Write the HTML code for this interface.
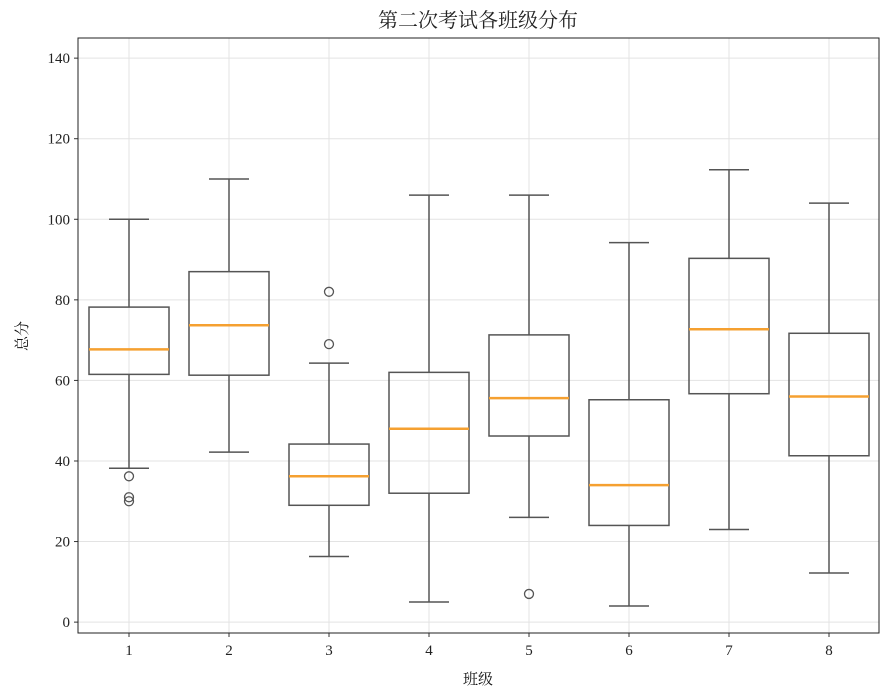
<!DOCTYPE html>
<html><head><meta charset="utf-8">
<style>
body{margin:0;background:#fff;}
svg text{font-family:"Liberation Serif","Noto Serif CJK SC",serif;fill:#222;}
</style></head>
<body>
<svg id="chart" width="888" height="690" xmlns="http://www.w3.org/2000/svg">
<text x="478" y="27" text-anchor="middle" font-size="20">第二次考试各班级分布</text>
<text x="478" y="684" text-anchor="middle" font-size="15" style="fill:#111">班级</text>
<text transform="translate(27,336) rotate(-90)" text-anchor="middle" font-size="15" style="fill:#111">总分</text>
<g id="grid"></g><g id="boxes"></g><g id="axes"></g>
</svg>
<script>
const categories=["1","2","3","4","5","6","7","8"];
const whiskerLow=[38.2,42.2,16.3,5,26,4,23,12.2];
const q1=[61.5,61.3,29,32,46.2,24,56.7,41.3];
const median=[67.7,73.7,36.2,48,55.6,34,72.7,56];
const q3=[78.2,87,44.2,62,71.3,55.2,90.3,71.7];
const whiskerHigh=[100,110,64.3,106,106,94.2,112.3,104];
const outliers=[[36.2,31,30],[],[69,82],[],[7],[],[],[]];
const yTicks=[0,20,40,60,80,100,120,140];
const L=78,R=879,T=38,B=633,yMin=-2.7,yMax=145;
const NS="http://www.w3.org/2000/svg";
const y=v=>B-(v-yMin)/(yMax-yMin)*(B-T);
const x=i=>129+i*(829-129)/(categories.length-1);
const BW=80;
function mk(tag,attrs,parent){const e=document.createElementNS(NS,tag);for(const k in attrs)e.setAttribute(k,attrs[k]);parent.appendChild(e);return e;}
const grid=document.getElementById('grid'),boxes=document.getElementById('boxes'),axes=document.getElementById('axes');
yTicks.forEach(t=>{
 const g=mk('line',{x1:L,x2:R,y1:y(t),y2:y(t),stroke:'#e3e3e3','stroke-width':1},grid);
 
 const tk=mk('line',{x1:L-4,x2:L,y1:y(t),y2:y(t),stroke:'#333'},axes);
 
 const tx=mk('text',{x:L-8,y:y(t)+5,'text-anchor':'end','font-size':15},axes);
 tx.textContent=t;
});
categories.forEach((c,i)=>{
 const cx=x(i);
 const g=mk('line',{x1:cx,x2:cx,y1:T,y2:B,stroke:'#e3e3e3'},grid);
 
 const grp=mk('g',{},boxes);
 
 const st={stroke:'#555','stroke-width':1.5,fill:'none'};
 mk('line',Object.assign({x1:cx,x2:cx,y1:y(whiskerLow[i]),y2:y(q1[i])},st),grp);
 mk('line',Object.assign({x1:cx,x2:cx,y1:y(q3[i]),y2:y(whiskerHigh[i])},st),grp);
 mk('line',Object.assign({x1:cx-20,x2:cx+20,y1:y(whiskerLow[i]),y2:y(whiskerLow[i])},st),grp);
 mk('line',Object.assign({x1:cx-20,x2:cx+20,y1:y(whiskerHigh[i]),y2:y(whiskerHigh[i])},st),grp);
 mk('rect',Object.assign({x:cx-BW/2,y:y(q3[i]),width:BW,height:y(q1[i])-y(q3[i])},st),grp);
 mk('line',{x1:cx-BW/2,x2:cx+BW/2,y1:y(median[i]),y2:y(median[i]),stroke:'#f5a030','stroke-width':2.5},grp);
 outliers[i].forEach(o=>{mk('circle',{cx:cx,cy:y(o),r:4.5,fill:'none',stroke:'#555','stroke-width':1.3},grp);});
 const tk=mk('line',{x1:cx,x2:cx,y1:B,y2:B+4,stroke:'#333'},axes);
 
 const tx=mk('text',{x:cx,y:B+22,'text-anchor':'middle','font-size':15},axes);
 tx.textContent=c;
});
const fr=mk('rect',{x:L,y:T,width:R-L,height:B-T,fill:'none',stroke:'#222','stroke-width':1},axes);

</script>
</body></html>
